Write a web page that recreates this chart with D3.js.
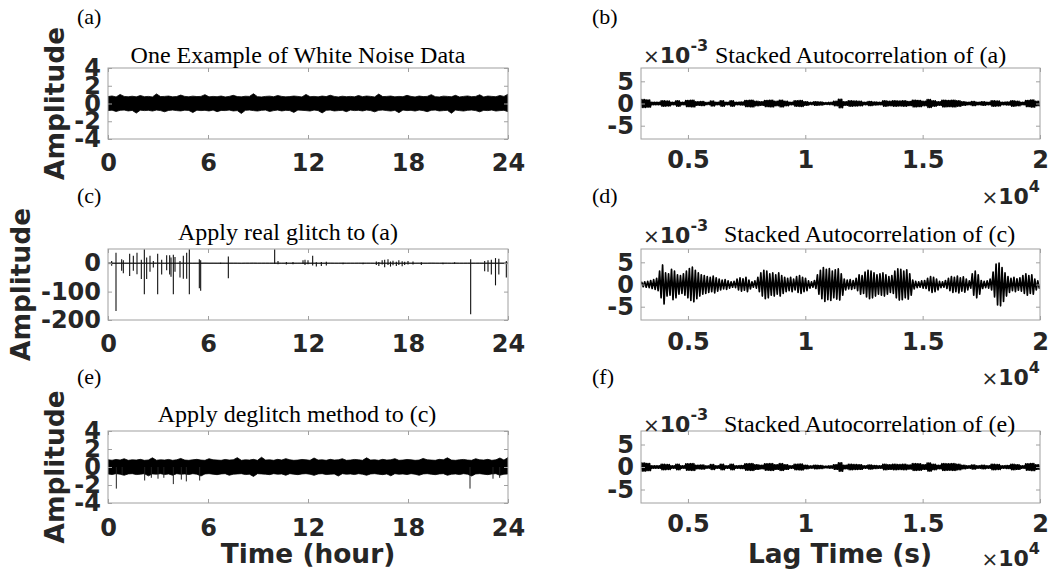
<!DOCTYPE html>
<html><head><meta charset="utf-8">
<script src="https://cdn.jsdelivr.net/npm/d3@7"></script>
<style>body{margin:0;background:#fff} svg{display:block}</style>
</head><body><svg id="c" width="1062" height="571"></svg>
<script>
// ---------------- DATA ----------------
const hourTicks = [0, 6, 12, 18, 24];
const lagTicks = [0.5, 1, 1.5, 2];
const noiseTicks = [4, 2, 0, -2, -4];
const glitchTicks = [0, -100, -200];
const acTicks = [5, 0, -5];
const hourDomain = [0, 24];
const lagDomain = [0.3, 2];           // x 10^4 s
const noiseDomain = [-4, 4];
const glitchDomain = [-200, 50];
const acDomain = [-8, 8];             // x 10^-3

// (a) white-noise band envelope, 100 bins over 24 h
const aUpper = [0.78,0.85,0.74,1.02,0.8,0.76,0.82,0.75,0.9,0.77,0.8,0.74,1.08,0.78,0.8,0.84,0.75,0.79,0.95,0.8,
  0.76,0.83,0.78,0.8,1.0,0.75,0.8,0.77,0.84,0.74,0.8,0.92,0.78,0.75,0.82,0.8,1.1,0.77,0.74,0.8,
  0.83,0.76,0.9,0.8,0.75,0.78,0.84,0.8,0.74,1.02,0.77,0.8,0.75,0.84,0.78,0.93,0.8,0.74,0.82,0.77,
  0.8,0.75,0.9,0.77,0.84,0.8,0.74,1.06,0.78,0.8,0.84,0.75,0.8,0.77,0.92,0.8,0.74,0.84,0.78,0.8,
  1.0,0.77,0.74,0.83,0.8,0.76,0.92,0.74,0.8,0.85,0.77,0.8,0.98,0.74,0.84,0.8,0.77,0.9,0.8,1.05];
const aLower = [-0.8,-0.75,-0.9,-0.77,-0.74,-0.84,-0.78,-1.08,-0.75,-0.8,-0.77,-0.85,-0.74,-0.8,-0.93,-0.78,-0.74,-0.8,-0.84,-0.75,
  -0.78,-1.02,-0.75,-0.8,-0.77,-0.84,-0.74,-0.92,-0.78,-0.8,-0.74,-0.84,-0.8,-1.12,-0.77,-0.74,-0.8,-0.85,-0.77,-0.74,
  -0.9,-0.8,-0.74,-0.84,-0.77,-0.8,-1.0,-0.74,-0.77,-0.8,-0.85,-0.74,-0.8,-1.06,-0.77,-0.74,-0.84,-0.8,-0.77,-0.92,
  -0.74,-0.8,-0.77,-0.84,-0.74,-0.8,-0.94,-0.77,-0.74,-0.8,-0.85,-0.77,-1.03,-0.74,-0.8,-0.77,-0.85,-0.74,-0.8,-0.92,
  -0.77,-0.74,-0.84,-0.8,-0.77,-1.1,-0.74,-0.8,-0.85,-0.77,-0.74,-0.8,-0.94,-0.77,-0.8,-0.74,-0.85,-0.8,-0.77,-0.92];

// (c) real glitches added to (a): [hour, max, min]
const cSpikes = [[0.22,8,-9],[0.48,37,-168],[0.82,14,-27],[0.92,10,-35],[1.3,33,-45],[1.52,26,-27],
  [1.74,37,-39],[2.0,12,-56],[2.18,49,-109],[2.32,20,-56],[2.52,26,-30],[2.72,8,-15],[2.98,33,-109],
  [3.22,12,-40],[3.52,28,-25],[3.7,28,-40],[3.78,20,-48],[3.92,30,-109],[4.02,22,-30],[4.32,8,-50],
  [4.52,26,-55],[4.72,37,-55],[4.88,49,-109],[5.48,14,-88],[5.56,10,-97],[6.76,2,-3],[7.22,24,-53],
  [10.0,49,-3],[10.2,8,-4],[10.7,4,-5],[11.1,4,-4],[11.7,10,-2],[11.82,12,-6],[12.0,10,-4],[12.28,26,-8],
  [12.5,3,-12],[12.8,4,-10],[13.1,5,-8],[14.1,2,-4],[15.3,2,-4],[16.1,6,-6],[16.25,4,-10],[16.45,10,-5],
  [16.6,12,-14],[16.8,14,-6],[16.95,6,-12],[17.1,9,-7],[17.3,5,-10],[17.45,10,-6],[17.65,7,-11],[17.8,5,-6],
  [18.0,8,-5],[18.3,6,-5],[18.8,3,-6],[20.1,2,-4],[20.8,3,-3],[21.76,14,-180],[22.6,8,-28],[22.8,10,-30],
  [23.0,12,-40],[23.25,18,-78],[23.45,16,-40],[23.9,8,-50]];

// (e) deglitched band envelope and residual dips: [hour, min]
const eUpper = [0.8,0.75,0.84,0.77,0.92,0.74,0.8,0.77,0.85,0.74,0.78,1.02,0.75,0.8,0.77,0.84,0.74,0.8,0.95,0.77,
  0.74,0.8,0.85,0.77,0.74,0.92,0.8,0.77,0.74,0.84,0.77,0.8,1.04,0.74,0.8,0.77,0.85,0.74,1.08,0.77,
  0.8,0.74,0.85,0.77,0.93,0.8,0.74,0.77,0.84,0.8,0.74,1.0,0.77,0.8,0.74,0.85,0.77,0.8,0.92,0.74,
  0.77,0.84,0.8,0.74,1.02,0.77,0.8,0.74,0.85,0.77,0.8,0.93,0.74,0.77,0.84,0.8,0.74,0.77,0.95,0.8,
  0.77,0.74,0.85,0.8,1.02,0.77,0.74,0.8,0.84,0.77,0.74,0.92,0.8,0.77,0.85,0.74,0.8,1.0,0.77,1.05];
const eLower = [-0.77,-0.84,-0.74,-0.8,-0.92,-0.77,-0.74,-0.84,-0.8,-0.74,-0.98,-0.77,-0.8,-0.74,-0.84,-0.77,-0.92,-0.74,-0.8,-0.77,
  -0.84,-0.74,-0.8,-1.0,-0.77,-0.74,-0.8,-0.85,-0.77,-0.74,-0.92,-0.8,-0.77,-0.74,-0.84,-0.8,-1.05,-0.74,-0.77,-0.8,
  -0.85,-0.74,-0.8,-0.77,-0.92,-0.74,-0.8,-0.85,-0.77,-0.74,-0.8,-0.93,-0.77,-0.74,-0.84,-0.8,-0.77,-1.0,-0.74,-0.8,
  -0.77,-0.84,-0.74,-0.8,-0.92,-0.77,-0.74,-0.8,-0.85,-0.77,-0.98,-0.74,-0.8,-0.77,-0.84,-0.74,-0.8,-0.92,-0.77,-0.74,
  -0.8,-0.85,-0.77,-0.74,-0.92,-0.8,-0.77,-0.84,-0.74,-0.8,-1.0,-0.77,-0.74,-0.8,-0.85,-0.77,-0.74,-0.92,-0.8,-0.77];
const eSpikes = [[0.5,-2.4],[0.85,-0.9],[2.2,-1.5],[2.6,-1.2],[3.0,-1.3],[3.35,-1.2],[3.92,-1.9],
  [4.4,-1.4],[4.7,-1.6],[5.5,-1.5],[21.72,-2.4],[23.1,-1.3],[23.5,-1.2]];

// stacked autocorrelations: oscillation amplitude (x 10^-3) per lag bin across 0.3-2 x 10^4 s
const bAmp = [0.9,0.8,0.3,0.3,0.6,0.55,0.3,0.6,0.3,0.7,0.75,0.4,0.45,0.25,0.55,0.3,0.6,0.3,0.6,0.3,
  0.35,0.7,0.75,0.5,0.4,0.7,0.75,0.5,0.75,0.5,0.3,0.6,0.65,0.4,0.25,0.4,0.35,0.2,0.25,0.5,
  0.95,0.4,0.6,0.55,0.5,0.3,0.45,0.35,0.3,0.6,0.5,0.6,0.55,0.6,0.45,0.75,0.7,0.5,0.9,0.6,
  0.4,0.75,0.7,0.75,0.6,0.4,0.3,0.45,0.3,0.4,0.3,0.6,0.55,0.3,0.35,0.6,0.5,0.3,0.7,0.8,0.5];
const dAmp = [0.5,0.6,0.7,0.9,1.1,1.4,3.0,4.4,2.6,2.4,3.4,3.0,2.2,2.0,2.4,3.0,3.6,3.9,3.2,2.6,
  2.2,2.0,1.8,1.6,1.9,1.5,1.2,1.0,1.1,0.8,0.6,0.7,1.2,1.5,1.3,1.6,1.0,0.6,0.8,1.6,
  2.6,3.2,3.0,2.4,2.6,2.2,2.6,2.0,1.6,1.4,1.6,1.2,1.8,2.0,1.6,1.4,0.8,0.6,0.9,2.2,
  3.2,3.8,3.4,3.6,3.0,3.3,3.5,2.4,1.2,1.0,1.1,0.9,1.4,2.2,2.0,2.8,3.2,3.0,2.6,2.2,
  2.4,2.6,2.2,1.8,2.0,3.0,3.5,3.4,3.0,3.3,2.4,1.0,0.7,0.6,0.8,0.9,1.4,1.8,1.6,1.2,
  0.7,0.6,0.9,1.4,1.8,1.6,1.9,1.5,1.7,1.2,0.8,2.4,3.0,2.2,0.9,0.7,0.8,1.2,2.8,4.6,
  4.8,3.8,2.6,1.8,1.4,1.6,1.3,1.5,2.0,2.4,2.0,2.2,1.2,0.8];
const fAmp = [0.9,0.8,0.3,0.3,0.6,0.55,0.3,0.6,0.3,0.7,0.75,0.4,0.45,0.25,0.55,0.3,0.6,0.3,0.6,0.3,
  0.35,0.7,0.75,0.5,0.4,0.7,0.75,0.5,0.75,0.5,0.3,0.6,0.65,0.4,0.25,0.4,0.35,0.2,0.25,0.5,
  0.95,0.4,0.6,0.55,0.5,0.3,0.45,0.35,0.3,0.6,0.5,0.6,0.55,0.6,0.45,0.75,0.7,0.5,0.9,0.6,
  0.4,0.75,0.7,0.75,0.6,0.4,0.3,0.45,0.3,0.4,0.3,0.6,0.55,0.3,0.35,0.6,0.5,0.3,0.7,0.8,0.5];

// ---------------- DRAWING ----------------
const svg = d3.select('#c');
svg.append('rect').attr('width', 1062).attr('height', 571).attr('fill', '#fff');
const BOLD = "'DejaVu Sans', sans-serif";
const SERIF = "'Liberation Serif', 'Times New Roman', serif";
const INK = '#262626', BOX = '#a0a0a0';

function panel(o) {
  const x = d3.scaleLinear().domain(o.xd).range([o.x0, o.x1]);
  const y = d3.scaleLinear().domain(o.yd).range([o.y1, o.y0]);
  svg.append('clipPath').attr('id', 'clip' + o.id).append('rect')
    .attr('x', o.x0).attr('y', o.y0).attr('width', o.x1 - o.x0).attr('height', o.y1 - o.y0);
  const plot = svg.append('g').attr('clip-path', `url(#clip${o.id})`);
  return {x, y, plot, o};
}
function styleAxis(g) {
  g.attr('font-family', BOLD).attr('font-size', 24).attr('font-weight', 'bold');
  g.select('.domain').remove();
  g.selectAll('.tick line').attr('stroke', BOX);
  g.selectAll('.tick text').attr('fill', INK);
}
function axes(p) {
  const {x, y, o} = p;
  const fmt = d => String(d);
  svg.append('g').attr('transform', `translate(0,${o.y1})`)
    .call(d3.axisBottom(x).tickValues(o.xt).tickSizeInner(-4).tickSizeOuter(0).tickPadding(o.xpad).tickFormat(fmt)).call(styleAxis);
  svg.append('g').attr('transform', `translate(0,${o.y0})`)
    .call(d3.axisTop(x).tickValues(o.xt).tickSizeInner(-4).tickSizeOuter(0).tickFormat('')).call(styleAxis);
  svg.append('g').attr('transform', `translate(${o.x0},0)`)
    .call(d3.axisLeft(y).tickValues(o.yt).tickSizeInner(-4).tickSizeOuter(0).tickPadding(7).tickFormat(fmt)).call(styleAxis);
  svg.append('g').attr('transform', `translate(${o.x1},0)`)
    .call(d3.axisRight(y).tickValues(o.yt).tickSizeInner(-4).tickSizeOuter(0).tickFormat('')).call(styleAxis);
  svg.append('rect').attr('x', o.x0).attr('y', o.y0).attr('width', o.x1 - o.x0).attr('height', o.y1 - o.y0)
    .attr('fill', 'none').attr('stroke', BOX).attr('stroke-width', 1);
}
function band(p, upper, lower, color) {
  const n = upper.length;
  const t = i => p.o.xd[0] + (p.o.xd[1] - p.o.xd[0]) * i / (n - 1);
  const area = d3.area().x((d, i) => p.x(t(i))).y0((d, i) => p.y(lower[i])).y1(d => p.y(d));
  p.plot.append('path').datum(upper).attr('d', area).attr('fill', color).attr('stroke', color).attr('stroke-width', 0.8);
}
// each amplitude value drives `per` oscillation cycles within its lag bin
function osc(p, amps, width, per) {
  const n = amps.length, [a, b] = p.o.xd, step = (b - a) / n / per;
  const pts = [[a, 0]];
  amps.forEach((v, i) => {
    for (let k = 0; k < per; k++) {
      const x0 = a + (i * per + k) * step;
      pts.push([x0 + 0.25 * step, v]);
      pts.push([x0 + 0.75 * step, -v]);
    }
  });
  pts.push([b, 0]);
  p.plot.append('path').datum(pts).attr('d', d3.line().x(d => p.x(d[0])).y(d => p.y(d[1])))
    .attr('fill', 'none').attr('stroke', '#000').attr('stroke-width', width).attr('stroke-linejoin', 'round');
}
function ylabel(cx, cy, txt) {
  svg.append('text').attr('transform', `translate(${cx},${cy}) rotate(-90)`).attr('text-anchor', 'middle')
    .attr('font-family', BOLD).attr('font-weight', 'bold').attr('font-size', 26.4).attr('fill', INK).text(txt);
}
function xlabel(cx, cy, txt) {
  svg.append('text').attr('x', cx).attr('y', cy).attr('text-anchor', 'middle')
    .attr('font-family', BOLD).attr('font-weight', 'bold').attr('font-size', 26.4).attr('fill', INK).text(txt);
}
function serif(x, y, txt, anchor, size) {
  svg.append('text').attr('x', x).attr('y', y).attr('text-anchor', anchor || 'start')
    .attr('font-family', SERIF).attr('font-size', size || 24).attr('fill', '#000').text(txt);
}
function expo(x, y, pow, anchor) {
  const t = svg.append('text').attr('x', x).attr('y', y).attr('text-anchor', anchor)
    .attr('font-family', BOLD).attr('fill', INK);
  t.append('tspan').attr('font-size', 20).attr('font-weight', 'normal').text('\u00d7');
  t.append('tspan').attr('font-size', 22).attr('font-weight', 'bold').text('10');
  t.append('tspan').attr('font-size', 16).attr('font-weight', 'bold').attr('dy', -12).text(pow);
}

const LX = [108, 508], RX = [641, 1040];
const ROW = [[68, 139], [249, 320], [431, 503]];

// (a)
const pa = panel({id: 'a', x0: LX[0], x1: LX[1], y0: ROW[0][0], y1: ROW[0][1], xd: hourDomain, yd: noiseDomain, xt: hourTicks, yt: noiseTicks, xpad: 15});
band(pa, aUpper, aLower, '#000');
axes(pa);
// (c)
const pc = panel({id: 'c', x0: LX[0], x1: LX[1], y0: ROW[1][0], y1: ROW[1][1], xd: hourDomain, yd: glitchDomain, xt: hourTicks, yt: glitchTicks, xpad: 15});
band(pc, aUpper, aLower, '#222');
pc.plot.selectAll('line.sp').data(cSpikes).join('line').attr('class', 'sp')
  .attr('x1', d => pc.x(d[0])).attr('x2', d => pc.x(d[0]))
  .attr('y1', d => pc.y(d[1])).attr('y2', d => pc.y(d[2]))
  .attr('stroke', '#111').attr('stroke-width', 1.1);
axes(pc);
// (e)
const pe = panel({id: 'e', x0: LX[0], x1: LX[1], y0: ROW[2][0], y1: ROW[2][1], xd: hourDomain, yd: noiseDomain, xt: hourTicks, yt: noiseTicks, xpad: 16});
band(pe, eUpper, eLower, '#000');
pe.plot.selectAll('line.sp').data(eSpikes).join('line').attr('class', 'sp')
  .attr('x1', d => pe.x(d[0])).attr('x2', d => pe.x(d[0]))
  .attr('y1', pe.y(0)).attr('y2', d => pe.y(d[1]))
  .attr('stroke', '#222').attr('stroke-width', 1);
axes(pe);
// (b)
const pb = panel({id: 'b', x0: RX[0], x1: RX[1], y0: ROW[0][0], y1: ROW[0][1], xd: lagDomain, yd: acDomain, xt: lagTicks, yt: acTicks, xpad: 12});
osc(pb, bAmp, 1.5, 3);
axes(pb);
// (d)
const pd = panel({id: 'd', x0: RX[0], x1: RX[1], y0: ROW[1][0], y1: ROW[1][1], xd: lagDomain, yd: acDomain, xt: lagTicks, yt: acTicks, xpad: 13});
osc(pd, dAmp, 1.7, 1);
axes(pd);
// (f)
const pf = panel({id: 'f', x0: RX[0], x1: RX[1], y0: ROW[2][0], y1: ROW[2][1], xd: lagDomain, yd: acDomain, xt: lagTicks, yt: acTicks, xpad: 12});
osc(pf, fAmp, 1.5, 3);
axes(pf);

// titles, labels
serif(298, 63, 'One Example of White Noise Data', 'middle');
serif(288, 240, 'Apply real glitch to (a)', 'middle');
serif(297, 422, 'Apply deglitch method to (c)', 'middle');
serif(715, 63, 'Stacked Autocorrelation of (a)', 'start');
serif(724, 242, 'Stacked Autocorrelation of (c)', 'start');
serif(724, 432, 'Stacked Autocorrelation of (e)', 'start');
serif(77, 24, '(a)', 'start', 22);
serif(592, 24, '(b)', 'start', 22);
serif(77, 203, '(c)', 'start', 22);
serif(592, 203, '(d)', 'start', 22);
serif(77, 384, '(e)', 'start', 22);
serif(592, 384, '(f)', 'start', 22);

expo(643, 63, '-3', 'start');
expo(643, 243, '-3', 'start');
expo(643, 432, '-3', 'start');
expo(1040, 204, '4', 'end');
expo(1040, 385, '4', 'end');
expo(1040, 566, '4', 'end');

ylabel(64, 103.5, 'Amplitude');
ylabel(30, 284.5, 'Amplitude');
ylabel(64, 467, 'Amplitude');
xlabel(308, 563, 'Time (hour)');
xlabel(840, 563, 'Lag Time (s)');
</script></body></html>
